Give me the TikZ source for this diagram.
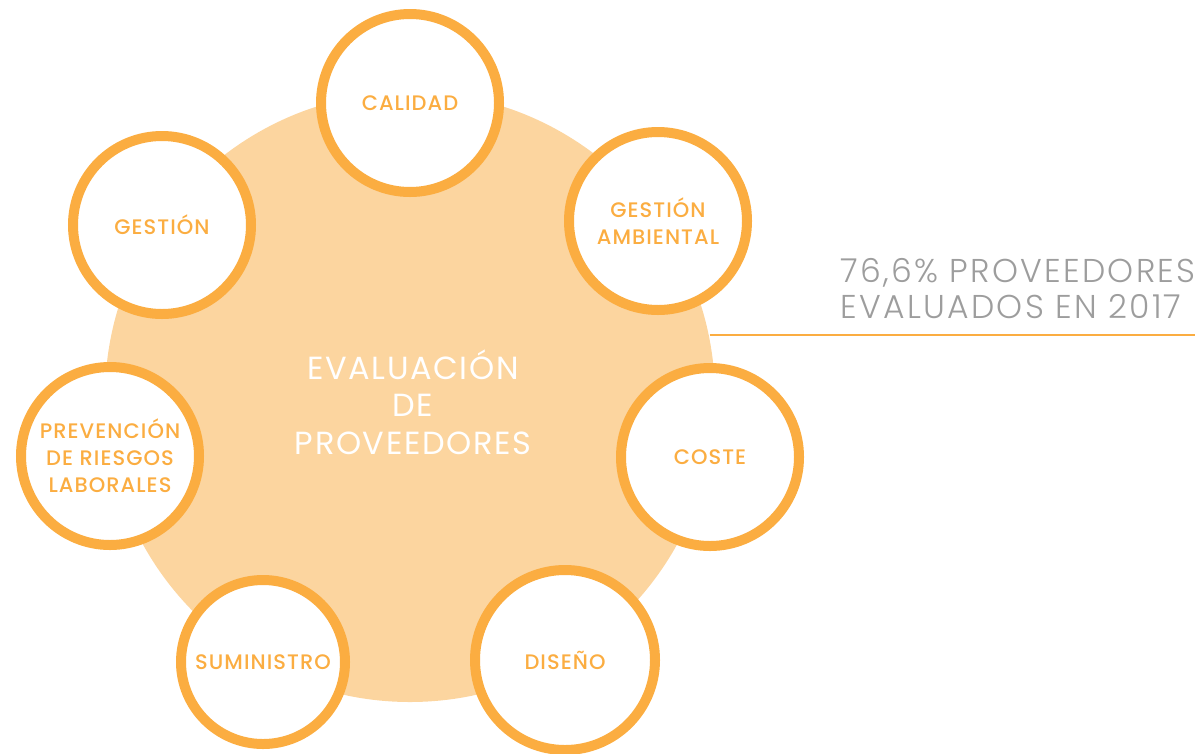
\documentclass[tikz,border=0pt]{standalone}
\usepackage{fontspec}
\setmainfont{Poppins}
\newfontfamily\lightf{Poppins Light}[LetterSpace=7]
\newfontfamily\centerf{Poppins}[LetterSpace=5]
\newfontfamily\medf{Poppins Medium}[LetterSpace=5]
\definecolor{orangeS}{HTML}{FBAD41}
\definecolor{orangeF}{HTML}{FCD59F}
\definecolor{grayT}{HTML}{9D9D9D}
\tikzset{
  crit/.style={circle, draw=orangeS, line width=10pt, fill=white, inner sep=0pt,
    text=orangeS, font=\medf\fontsize{21}{27}\selectfont, align=center},
  centertext/.style={text=white, font=\centerf\fontsize{32}{37.5}\selectfont, align=center},
  stat/.style={text=grayT, font=\lightf\fontsize{33}{36}\selectfont, anchor=base west, inner sep=0pt},
  statline/.style={draw=orangeS, line width=1.6pt}
}
\begin{document}
\begin{tikzpicture}[x=1pt,y=-1pt]
\useasboundingbox (0,0) rectangle (1198,753);
\node[circle, fill=orangeF, minimum size=610pt, inner sep=0pt] (big) at (410,397) {};
\node[centertext] (ctext) at (413,402) {EVALUACIÓN\\DE\\PROVEEDORES};
\coordinate (lineend) at (1195,335);
\draw[statline] (big.11.7 |- lineend) -- (lineend);
\node[stat] (stat1) at (840,282) {76,6\% PROVEEDORES};
\node[stat] (stat2) at (840,318) {EVALUADOS EN 2017};
\node[crit, minimum size=178pt] (calidad) at (410,103) {CALIDAD};
\node[crit, minimum size=178pt] (gamb) at (658,221) {GESTIÓN\\AMBIENTAL};
\node[crit, minimum size=178pt] (gestion) at (162,225) {GESTIÓN};
\node[crit, minimum size=178pt] (prev) at (110,456) {PREVENCIÓN\\DE RIESGOS\\LABORALES};
\node[crit, minimum size=178pt] (coste) at (710,457) {COSTE};
\node[crit, minimum size=164pt] (sumin) at (263,662) {SUMINISTRO};
\node[crit, minimum size=180pt] (diseno) at (565,660) {DISEÑO};
\end{tikzpicture}
\end{document}
